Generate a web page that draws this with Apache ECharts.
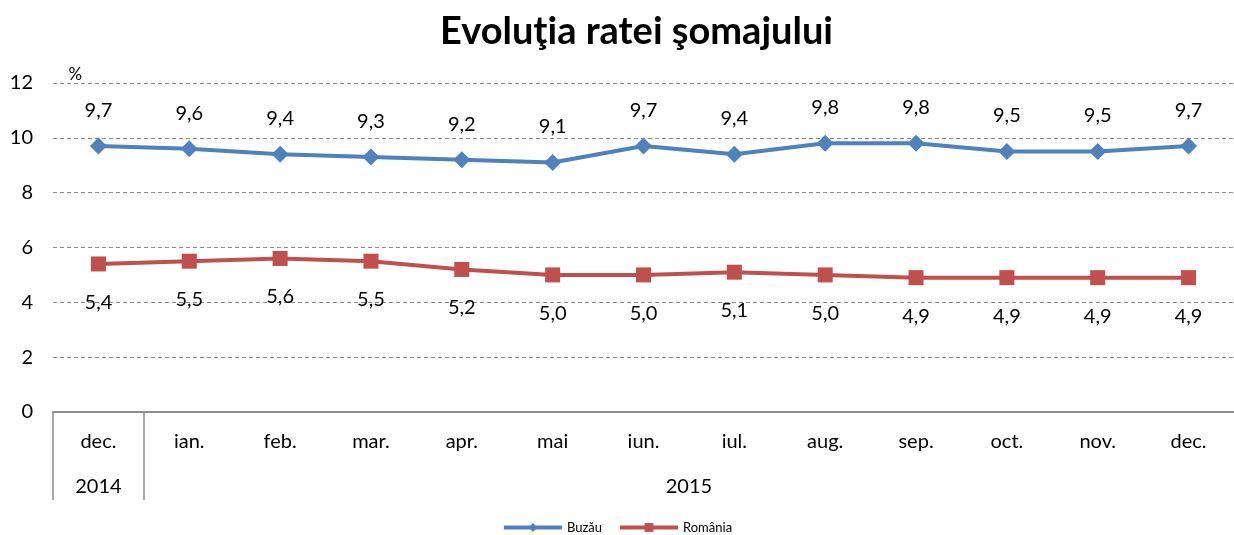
<!DOCTYPE html>
<html><head><meta charset="utf-8">
<script src="https://cdn.jsdelivr.net/npm/echarts@6/dist/echarts.min.js"></script>
<style>html,body{margin:0;padding:0;background:#fff}#c{width:1234px;height:535px}</style>
</head><body><div id="c"></div>
<script>
const months = ['dec.','ian.','feb.','mar.','apr.','mai','iun.','iul.','aug.','sep.','oct.','nov.','dec.'];
const years = ['2014','2015'];
const buzau = [9.7,9.6,9.4,9.3,9.2,9.1,9.7,9.4,9.8,9.8,9.5,9.5,9.7];
const romania = [5.4,5.5,5.6,5.5,5.2,5.0,5.0,5.1,5.0,4.9,4.9,4.9,4.9];
const yTicks = [0,2,4,6,8,10,12];

const F = 'Lato, "Open Sans", sans-serif';
const fmt = v => v.toFixed(1).replace('.', ',');
const chart = echarts.init(document.getElementById('c'), null, {renderer:'canvas'});
chart.setOption({
  animation:false,
  title:{text:'Evoluţia ratei şomajului',left:435,top:8,textStyle:{fontFamily:F,fontSize:38,fontWeight:'bold',color:'#000'}},
  legend:{bottom:-4,left:'center',itemWidth:58,itemHeight:11,itemGap:16,
    lineStyle:{width:4},
    textStyle:{fontFamily:F,fontSize:13,color:'#000'},
    data:['Buzău','România']},
  grid:{left:53,right:-14,top:83,bottom:123},
  xAxis:[{
    type:'category',data:months,boundaryGap:true,
    axisLine:{show:true,lineStyle:{color:'#8c8c8c',width:2}},
    axisTick:{show:false},
    axisLabel:{fontFamily:F,fontSize:20,color:'#000',margin:20,interval:0}
  },{
    type:'value',position:'bottom',min:-0.5,max:12.5,
    axisLine:{show:false},splitLine:{show:false},
    axisTick:{show:true,customValues:[-0.5,0.5],length:88,lineStyle:{color:'#8c8c8c',width:1.5}},
    axisLabel:{show:true,customValues:[0,6.5],margin:65,fontFamily:F,fontSize:20,color:'#000',
      formatter:v=> v===0?years[0]:years[1]}
  }],
  yAxis:{type:'value',min:0,max:12,interval:2,name:'%',nameLocation:'end',nameGap:0,
    nameTextStyle:{fontFamily:F,fontSize:17,color:'#000',align:'left',padding:[0,0,0,-30]},
    axisLine:{show:false},axisTick:{show:false},
    axisLabel:{fontFamily:F,fontSize:20,color:'#000',margin:20,customValues:yTicks},
    splitLine:{show:true,lineStyle:{color:'#8c8c8c',type:[4,3],width:1}}},
  series:[{
    name:'Buzău',type:'line',data:buzau,symbol:'diamond',symbolSize:17,
    itemStyle:{color:'#4F81BD'},lineStyle:{color:'#4F81BD',width:4},
    label:{show:true,position:'top',distance:17,formatter:p=>fmt(p.value),fontFamily:F,fontSize:20,color:'#000'}
  },{
    name:'România',type:'line',data:romania,symbol:'rect',symbolSize:15,
    itemStyle:{color:'#C0504D'},lineStyle:{color:'#C0504D',width:4},
    label:{show:true,position:'bottom',distance:21,formatter:p=>fmt(p.value),fontFamily:F,fontSize:20,color:'#000'}
  }]
});
</script></body></html>
